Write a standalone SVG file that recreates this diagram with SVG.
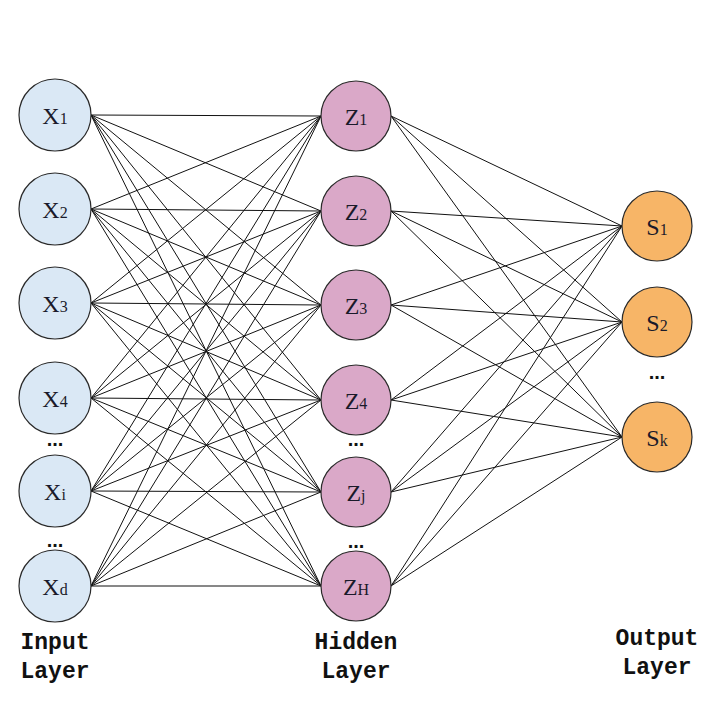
<svg xmlns="http://www.w3.org/2000/svg" width="708" height="720" viewBox="0 0 708 720">
<style>
.in{fill:#dae8f5;stroke:#2a2a2a;stroke-width:1.2}
.hd{fill:#daa8c8;stroke:#2a2a2a;stroke-width:1.2}
.out{fill:#f7b567;stroke:#2a2a2a;stroke-width:1.2}
.lbl{font-family:"Liberation Serif",serif;font-size:24px;fill:#1a1a2a;text-anchor:middle}
.sub{font-size:16px}
.dots{font-family:"Liberation Sans",sans-serif;font-size:20px;font-weight:bold;fill:#111;text-anchor:middle}
.cap{font-family:"Liberation Mono",monospace;font-size:23px;font-weight:bold;fill:#111;text-anchor:middle}
#edges line{stroke:#111;stroke-width:1}
</style>
<rect width="708" height="720" fill="#fff"/>
<g id="edges">
<line x1="91" y1="115" x2="321" y2="116"/><line x1="91" y1="115" x2="321" y2="211"/><line x1="91" y1="115" x2="321" y2="305"/><line x1="91" y1="115" x2="321" y2="400"/><line x1="91" y1="115" x2="321" y2="492"/><line x1="91" y1="115" x2="321" y2="586"/>
<line x1="91" y1="209" x2="321" y2="116"/><line x1="91" y1="209" x2="321" y2="211"/><line x1="91" y1="209" x2="321" y2="305"/><line x1="91" y1="209" x2="321" y2="400"/><line x1="91" y1="209" x2="321" y2="492"/><line x1="91" y1="209" x2="321" y2="586"/>
<line x1="91" y1="303" x2="321" y2="116"/><line x1="91" y1="303" x2="321" y2="211"/><line x1="91" y1="303" x2="321" y2="305"/><line x1="91" y1="303" x2="321" y2="400"/><line x1="91" y1="303" x2="321" y2="492"/><line x1="91" y1="303" x2="321" y2="586"/>
<line x1="91" y1="398" x2="321" y2="116"/><line x1="91" y1="398" x2="321" y2="211"/><line x1="91" y1="398" x2="321" y2="305"/><line x1="91" y1="398" x2="321" y2="400"/><line x1="91" y1="398" x2="321" y2="492"/><line x1="91" y1="398" x2="321" y2="586"/>
<line x1="91" y1="491" x2="321" y2="116"/><line x1="91" y1="491" x2="321" y2="211"/><line x1="91" y1="491" x2="321" y2="305"/><line x1="91" y1="491" x2="321" y2="400"/><line x1="91" y1="491" x2="321" y2="492"/><line x1="91" y1="491" x2="321" y2="586"/>
<line x1="91" y1="586" x2="321" y2="116"/><line x1="91" y1="586" x2="321" y2="211"/><line x1="91" y1="586" x2="321" y2="305"/><line x1="91" y1="586" x2="321" y2="400"/><line x1="91" y1="586" x2="321" y2="492"/><line x1="91" y1="586" x2="321" y2="586"/>
<line x1="391" y1="116" x2="622" y2="226"/><line x1="391" y1="116" x2="622" y2="322"/><line x1="391" y1="116" x2="622" y2="437"/>
<line x1="391" y1="211" x2="622" y2="226"/><line x1="391" y1="211" x2="622" y2="322"/><line x1="391" y1="211" x2="622" y2="437"/>
<line x1="391" y1="305" x2="622" y2="226"/><line x1="391" y1="305" x2="622" y2="322"/><line x1="391" y1="305" x2="622" y2="437"/>
<line x1="391" y1="400" x2="622" y2="226"/><line x1="391" y1="400" x2="622" y2="322"/><line x1="391" y1="400" x2="622" y2="437"/>
<line x1="391" y1="492" x2="622" y2="226"/><line x1="391" y1="492" x2="622" y2="322"/><line x1="391" y1="492" x2="622" y2="437"/>
<line x1="391" y1="586" x2="622" y2="226"/><line x1="391" y1="586" x2="622" y2="322"/><line x1="391" y1="586" x2="622" y2="437"/>
</g>
<g id="x1"><circle class="in" cx="55" cy="115" r="36"/><text class="lbl" x="55" y="124">X<tspan class="sub">1</tspan></text></g>
<g id="x2"><circle class="in" cx="55" cy="209" r="36"/><text class="lbl" x="55" y="218">X<tspan class="sub">2</tspan></text></g>
<g id="x3"><circle class="in" cx="55" cy="303" r="36"/><text class="lbl" x="55" y="312">X<tspan class="sub">3</tspan></text></g>
<g id="x4"><circle class="in" cx="55" cy="398" r="36"/><text class="lbl" x="55" y="407">X<tspan class="sub">4</tspan></text></g>
<g id="xi"><circle class="in" cx="55" cy="491" r="36"/><text class="lbl" x="55" y="500">X<tspan class="sub">i</tspan></text></g>
<g id="xd"><circle class="in" cx="55" cy="586" r="36"/><text class="lbl" x="55" y="595">X<tspan class="sub">d</tspan></text></g>
<g id="z1"><circle class="hd" cx="356" cy="116" r="35"/><text class="lbl" x="356" y="125">Z<tspan class="sub">1</tspan></text></g>
<g id="z2"><circle class="hd" cx="356" cy="211" r="35"/><text class="lbl" x="356" y="220">Z<tspan class="sub">2</tspan></text></g>
<g id="z3"><circle class="hd" cx="356" cy="305" r="35"/><text class="lbl" x="356" y="314">Z<tspan class="sub">3</tspan></text></g>
<g id="z4"><circle class="hd" cx="356" cy="400" r="35"/><text class="lbl" x="356" y="409">Z<tspan class="sub">4</tspan></text></g>
<g id="zj"><circle class="hd" cx="356" cy="492" r="35"/><text class="lbl" x="356" y="501">Z<tspan class="sub">j</tspan></text></g>
<g id="zH"><circle class="hd" cx="356" cy="586" r="35"/><text class="lbl" x="356" y="595">Z<tspan class="sub">H</tspan></text></g>
<g id="s1"><circle class="out" cx="657" cy="226" r="35"/><text class="lbl" x="657" y="235">S<tspan class="sub">1</tspan></text></g>
<g id="s2"><circle class="out" cx="657" cy="322" r="35"/><text class="lbl" x="657" y="331">S<tspan class="sub">2</tspan></text></g>
<g id="sk"><circle class="out" cx="657" cy="437" r="35"/><text class="lbl" x="657" y="446">S<tspan class="sub">k</tspan></text></g>
<g id="dots">
<text class="dots" x="55" y="446">...</text>
<text class="dots" x="55" y="547">...</text>
<text class="dots" x="356" y="446">...</text>
<text class="dots" x="356" y="548">...</text>
<text class="dots" x="657" y="379">...</text>
</g>
<g id="captions">
<text class="cap" x="55" y="649">Input</text>
<text class="cap" x="55" y="678">Layer</text>
<text class="cap" x="356" y="649">Hidden</text>
<text class="cap" x="356" y="678">Layer</text>
<text class="cap" x="657" y="645">Output</text>
<text class="cap" x="657" y="674">Layer</text>
</g>
</svg>
